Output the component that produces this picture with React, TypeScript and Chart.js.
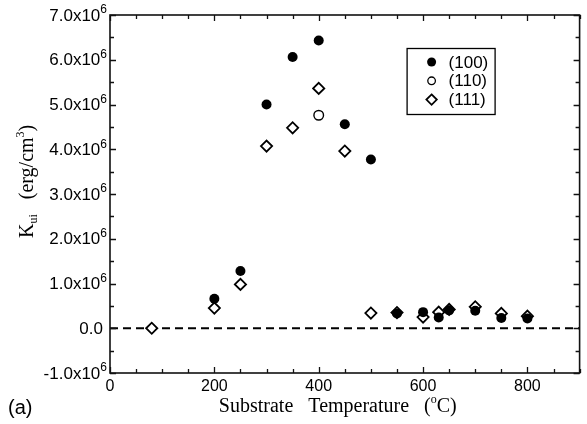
import React, { useEffect, useRef } from 'react';
import { Chart, registerables } from 'chart.js';

Chart.register(...registerables);

// Substrate temperature (°C) and K_ui values (in units of 1e6 erg/cm^3)
const temps100 = [200, 250, 300, 350, 400, 450, 500, 550, 600, 630, 650, 700, 750, 800];
const k100 = [0.66, 1.28, 5.0, 6.06, 6.43, 4.56, 3.77, 0.33, 0.36, 0.24, 0.4, 0.39, 0.23, 0.22];

const temps110 = [400];
const k110 = [4.76];

const temps111 = [80, 200, 250, 300, 350, 400, 450, 500, 550, 600, 630, 650, 700, 750, 800];
const k111 = [0.0, 0.45, 0.98, 4.07, 4.48, 5.36, 3.96, 0.34, 0.35, 0.25, 0.36, 0.42, 0.48, 0.33, 0.27];

const seriesLabels = ['(100)', '(110)', '(111)'];
const zeroLineX = [0, 900];
const xRange = [0, 900];
const yRange = [-1.0, 7.0];
const xLabelStep = 200;
const yLabelStep = 1.0;

const SANS = '"Liberation Sans", Arial, sans-serif';
const SERIF = '"Liberation Serif", "Times New Roman", serif';

const toPoints = (xs: number[], ys: number[]) => xs.map((x, i) => ({ x, y: ys[i] * 1e6 }));

const isMult = (v: number, step: number) => Math.abs(v / step - Math.round(v / step)) < 1e-6;

function drawMarker(ctx: CanvasRenderingContext2D, kind: string, x: number, y: number, r: number) {
  ctx.save();
  ctx.beginPath();
  if (kind === 'diamond') {
    ctx.moveTo(x, y - r);
    ctx.lineTo(x + r, y);
    ctx.lineTo(x, y + r);
    ctx.lineTo(x - r, y);
    ctx.closePath();
    ctx.fillStyle = '#fff';
    ctx.fill();
    ctx.lineWidth = 1.8;
    ctx.strokeStyle = '#000';
    ctx.stroke();
  } else {
    ctx.arc(x, y, r, 0, Math.PI * 2);
    if (kind === 'filled') {
      ctx.fillStyle = '#000';
      ctx.fill();
    } else {
      ctx.fillStyle = '#fff';
      ctx.fill();
      ctx.lineWidth = 1.3;
      ctx.strokeStyle = '#000';
      ctx.stroke();
    }
  }
  ctx.restore();
}

const decorPlugin = {
  id: 'decor',
  afterDraw(chart: any) {
    const { ctx, chartArea } = chart;
    const { left, right, top, bottom } = chartArea;
    const xs = chart.scales.x;
    const ys = chart.scales.y;
    ctx.save();
    // frame
    ctx.strokeStyle = '#111';
    ctx.lineWidth = 1.6;
    ctx.strokeRect(left, top, right - left, bottom - top);
    // ticks
    ctx.lineWidth = 1.3;
    ctx.beginPath();
    xs.ticks.forEach((t: any) => {
      const px = Math.round(xs.getPixelForValue(t.value)) + 0.5;
      const len = isMult(t.value, xLabelStep) ? 6 : 4;
      ctx.moveTo(px, bottom);
      ctx.lineTo(px, bottom - len);
      ctx.moveTo(px, top);
      ctx.lineTo(px, top + len);
    });
    ys.ticks.forEach((t: any) => {
      const py = Math.round(ys.getPixelForValue(t.value)) + 0.5;
      const len = isMult(t.value, yLabelStep * 1e6) ? 6 : 4;
      ctx.moveTo(left, py);
      ctx.lineTo(left + len, py);
      ctx.moveTo(right, py);
      ctx.lineTo(right - len, py);
    });
    ctx.stroke();

    // y tick labels with real superscript exponent
    ctx.fillStyle = '#000';
    ctx.textBaseline = 'middle';
    ys.ticks.forEach((t: any) => {
      const v = t.value;
      if (!isMult(v, yLabelStep * 1e6)) return;
      const py = ys.getPixelForValue(v);
      const endX = left - 3;
      if (Math.abs(v) < 1) {
        ctx.font = `17px ${SANS}`;
        ctx.textAlign = 'right';
        ctx.fillText('0.0', endX - 4, py + 1);
        return;
      }
      ctx.font = `12px ${SANS}`;
      ctx.textAlign = 'right';
      ctx.fillText('6', endX, py - 5);
      const supW = ctx.measureText('6').width;
      ctx.font = `17px ${SANS}`;
      ctx.fillText(`${(v / 1e6).toFixed(1)}x10`, endX - supW, py + 1);
    });

    // legend
    const bx = right - 173;
    const by = top + 33;
    const bw = 88;
    const bh = 66;
    ctx.fillStyle = '#fff';
    ctx.fillRect(bx, by, bw, bh);
    ctx.lineWidth = 1.3;
    ctx.strokeStyle = '#000';
    ctx.strokeRect(bx + 0.5, by + 0.5, bw, bh);
    const kinds = ['filled', 'hollow', 'diamond'];
    const radii = [4.5, 3.8, 5.2];
    ctx.font = `17px ${SANS}`;
    ctx.textBaseline = 'middle';
    ctx.textAlign = 'left';
    seriesLabels.forEach((lab, i) => {
      const ry = by + 14 + i * 18.8;
      drawMarker(ctx, kinds[i], bx + 25, ry, radii[i]);
      ctx.fillStyle = '#000';
      ctx.fillText(lab, bx + 42, ry + 1);
    });

    // x title
    ctx.fillStyle = '#000';
    ctx.textBaseline = 'alphabetic';
    const big = `20px ${SERIF}`;
    const small = `12px ${SERIF}`;
    const xSegs: [string, string, number][] = [
      ['Substrate   Temperature   (', big, 0],
      ['o', small, -9],
      ['C)', big, 0],
    ];
    let total = 0;
    xSegs.forEach(([s, f]) => {
      ctx.font = f;
      total += ctx.measureText(s).width;
    });
    let cx = (left + right) / 2 - 7 - total / 2;
    const baseY = bottom + 39;
    xSegs.forEach(([s, f, dy]) => {
      ctx.font = f;
      ctx.fillText(s, cx, baseY + dy);
      cx += ctx.measureText(s).width;
    });

    // y title (rotated)
    ctx.save();
    ctx.translate(33, 238);
    ctx.rotate(-Math.PI / 2);
    const ySegs: [string, string, number][] = [
      ['K', big, 0],
      ['ui', small, 4],
      ['   (erg/cm', big, 0],
      ['3', small, -9],
      [')', big, 0],
    ];
    let yx = 0;
    ySegs.forEach(([s, f, dy]) => {
      ctx.font = f;
      ctx.fillText(s, yx, dy);
      yx += ctx.measureText(s).width;
    });
    ctx.restore();

    // panel label
    ctx.font = `20px ${SANS}`;
    ctx.fillText('(a)', 8, 414);
    ctx.restore();
  },
};

export default function App() {
  const ref = useRef<HTMLCanvasElement | null>(null);
  useEffect(() => {
    if (!ref.current) return;
    const chart = new Chart(ref.current, {
      type: 'scatter',
      data: {
        datasets: [
          {
            label: 'zero',
            data: zeroLineX.map((x) => ({ x, y: 0 })),
            showLine: true,
            borderColor: '#000',
            borderWidth: 2,
            borderDash: [8, 5],
            pointRadius: 0,
            order: 5,
          } as any,
          {
            label: seriesLabels[2],
            data: toPoints(temps111, k111),
            pointStyle: 'rectRot',
            pointRadius: 5.6,
            backgroundColor: '#fff',
            borderColor: '#000',
            borderWidth: 1.8,
            order: 3,
          },
          {
            label: seriesLabels[1],
            data: toPoints(temps110, k110),
            pointStyle: 'circle',
            pointRadius: 4.8,
            backgroundColor: '#fff',
            borderColor: '#000',
            borderWidth: 1.4,
            order: 2,
          },
          {
            label: seriesLabels[0],
            data: toPoints(temps100, k100),
            pointStyle: 'circle',
            pointRadius: 5,
            backgroundColor: '#000',
            borderColor: '#000',
            borderWidth: 0,
            order: 1,
          },
        ],
      },
      options: {
        responsive: false,
        animation: false,
        layout: { padding: { left: 0, top: 15, right: 7, bottom: 0 } },
        plugins: { legend: { display: false }, tooltip: { enabled: false } },
        scales: {
          x: {
            type: 'linear',
            min: xRange[0],
            max: xRange[1],
            grid: { display: false },
            border: { display: false },
            ticks: {
              stepSize: 50,
              autoSkip: false,
              maxRotation: 0,
              padding: -4,
              color: '#000',
              font: { family: SANS, size: 16 },
              callback: (v: any) => (isMult(Number(v), xLabelStep) ? String(v) : ''),
            },
            afterFit: (s: any) => {
              s.height = 51;
            },
          },
          y: {
            type: 'linear',
            min: yRange[0] * 1e6,
            max: yRange[1] * 1e6,
            grid: { display: false },
            border: { display: false },
            ticks: {
              stepSize: 0.5e6,
              autoSkip: false,
              display: false,
            },
            afterFit: (s: any) => {
              s.width = 110;
            },
          },
        },
      },
      plugins: [decorPlugin],
    });
    return () => chart.destroy();
  }, []);
  return (
    <div style={{ position: 'fixed', left: 0, top: 0, width: 587, height: 424, background: '#fff' }}>
      <canvas ref={ref} width={587} height={424} />
    </div>
  );
}
